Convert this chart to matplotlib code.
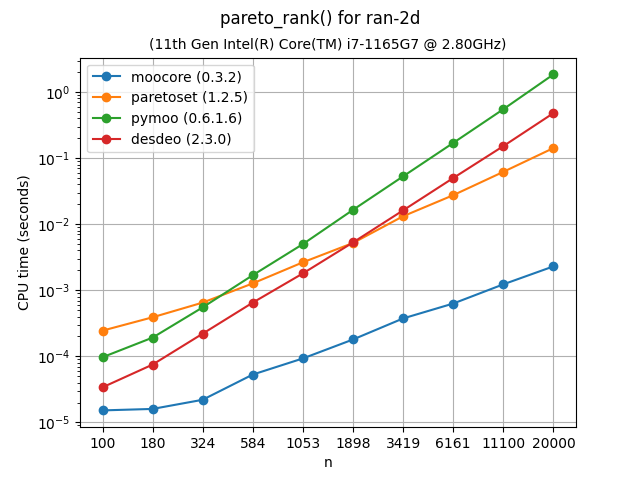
import matplotlib
matplotlib.use("Agg")
import matplotlib.pyplot as plt
from matplotlib.ticker import NullLocator

n = [100, 180, 324, 584, 1053, 1898, 3419, 6161, 11100, 20000]

moocore = [1.52e-5, 1.6e-5, 2.2e-5, 5.3e-5, 9.3e-5, 1.8e-4, 3.75e-4, 6.3e-4, 1.23e-3, 2.3e-3]
paretoset = [2.45e-4, 3.9e-4, 6.5e-4, 1.27e-3, 2.65e-3, 5.2e-3, 1.32e-2, 2.75e-2, 6.2e-2, 1.42e-1]
pymoo = [9.7e-5, 1.92e-4, 5.5e-4, 1.69e-3, 5.0e-3, 1.65e-2, 5.3e-2, 1.7e-1, 5.5e-1, 1.85]
desdeo = [3.4e-5, 7.5e-5, 2.2e-4, 6.5e-4, 1.8e-3, 5.3e-3, 1.62e-2, 5.0e-2, 1.52e-1, 4.8e-1]

series = {
    "moocore (0.3.2)": moocore,
    "paretoset (1.2.5)": paretoset,
    "pymoo (0.6.1.6)": pymoo,
    "desdeo (2.3.0)": desdeo,
}

fig, ax = plt.subplots(figsize=(6.4, 4.8), dpi=100)
for label, vals in series.items():
    ax.plot(n, vals, marker="o", label=label)

ax.set_xscale("log")
ax.set_yscale("log")
ax.set_xticks(n)
ax.set_xticklabels([str(v) for v in n])
ax.xaxis.set_minor_locator(NullLocator())
ax.set_xlabel("n")
ax.set_ylabel("CPU time (seconds)")
ax.grid(True)
ax.legend(loc="upper left")
fig.suptitle("pareto_rank() for ran-2d")
ax.set_title("(11th Gen Intel(R) Core(TM) i7-1165G7 @ 2.80GHz)", fontsize=10)

fig.savefig("out.png")
